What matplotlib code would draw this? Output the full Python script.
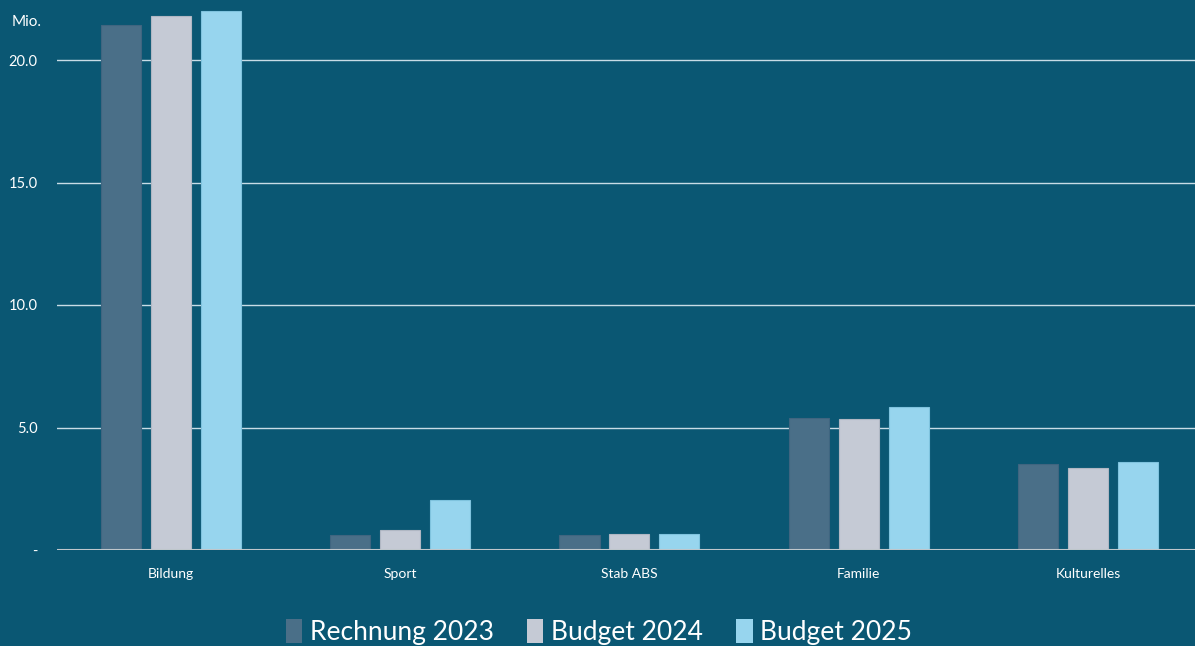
import numpy as np
import matplotlib.pyplot as plt
from matplotlib.patches import Patch

# data (Mio.)
categories = ["Bildung", "Sport", "Stab ABS", "Familie", "Kulturelles"]
rechnung_2023 = [21.42, 0.60, 0.60, 5.40, 3.52]
budget_2024 = [21.78, 0.82, 0.67, 5.33, 3.36]
budget_2025 = [21.99, 2.05, 0.67, 5.85, 3.59]
series_names = ["Rechnung 2023", "Budget 2024", "Budget 2025"]
y_ticks = [0, 5, 10, 15, 20]
y_labels = ["-", "5.0", "10.0", "15.0", "20.0"]

bg = "#0A5773"
colors = ["#4A6F88", "#C5CAD5", "#97D5EE"]
edges = ["#3F6580", "#B0B7C3", "#7FC3DE"]

plt.rcParams['font.family'] = ['Lato', 'DejaVu Sans']

fig = plt.figure(figsize=(11.95, 6.46), dpi=100, facecolor=bg)
ax = fig.add_axes([57/1195, 96/646, (1195-57)/1195, 550/646])
ax.set_facecolor(bg)

x = np.arange(len(categories))
w = 0.175
step = 0.218
for i, (vals, c, ec) in enumerate(zip([rechnung_2023, budget_2024, budget_2025], colors, edges)):
    ax.bar(x + (i - 1) * step, vals, width=w, color=c, edgecolor=ec, linewidth=0.8, zorder=3)

ax.set_xlim(-0.497, 4.467)
ax.set_ylim(0, 550/24.5)

for t in y_ticks[1:]:
    ax.axhline(t, color="#C8DCE6", linewidth=1.0, zorder=1)
ax.axhline(0, color="#BFC7CC", linewidth=1.5, zorder=4)

for s in ax.spines.values():
    s.set_visible(False)

ax.set_yticks(y_ticks)
ax.set_yticklabels(y_labels, color="white", fontsize=10.5)
ax.set_xticks(x)
ax.set_xticklabels(categories, color="white", fontsize=10)
ax.tick_params(axis="both", length=0)
ax.tick_params(axis="y", pad=14)
ax.tick_params(axis="x", pad=13)

fig.text(12/1195, 1 - 22/646, "Mio.", color="white", fontsize=11, va="center", ha="left")

handles = [Patch(facecolor=c, edgecolor="none") for c in colors]
fig.legend(handles, series_names, loc="center", bbox_to_anchor=(599/1195, 1 - 632/646),
           ncol=3, frameon=False, fontsize=19, labelcolor="white",
           handlelength=0.62, handleheight=1.0, handletextpad=0.3, columnspacing=1.25)

fig.savefig("out.png", dpi=100, facecolor=bg)
